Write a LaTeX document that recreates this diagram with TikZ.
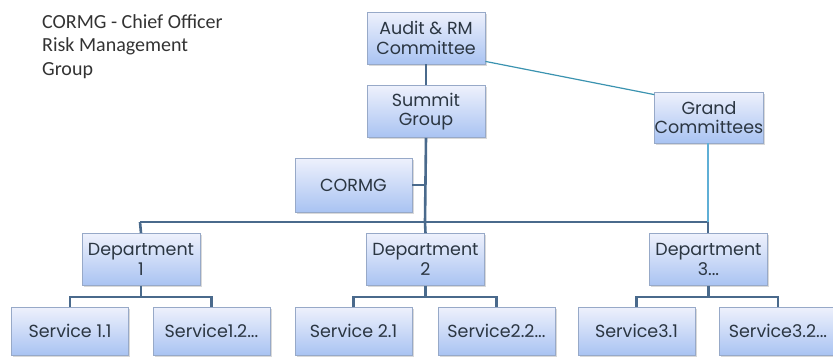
\documentclass[tikz,border=0pt]{standalone}
\usepackage{fontspec}
\setmainfont{Carlito}
\newfontfamily\boxfont{Poppins}
\usetikzlibrary{shadows}
\definecolor{boxtop}{HTML}{EEF1FC}
\definecolor{boxbot}{HTML}{A9C3F2}
\definecolor{boxline}{HTML}{97A9C8}
\definecolor{boxtext}{HTML}{2B3642}
\definecolor{bus}{HTML}{4A6A8C}
\definecolor{teal}{HTML}{3B93B0}
\definecolor{lightbus}{HTML}{5FAFD6}
\tikzset{
  orgbox/.style={rectangle, draw=boxline, line width=0.8pt, top color=boxtop, bottom color=boxbot,
    inner sep=0pt, align=center, text=boxtext, font=\boxfont\fontsize{17.5}{19.5}\selectfont,
    drop shadow={shadow xshift=1.5pt, shadow yshift=-1.5pt, opacity=0.25, fill=black!60}},
  bigbox/.style={orgbox, minimum width=118pt, minimum height=52pt},
  svcbox/.style={orgbox, minimum width=117pt, minimum height=48pt},
  busline/.style={draw=bus, line width=2.6pt},
  tealline/.style={draw=teal, line width=1.2pt},
  lightline/.style={draw=lightbus, line width=1.6pt}
}
\begin{document}
\begin{tikzpicture}[x=1pt,y=-1pt]
\useasboundingbox (0,0) rectangle (833,360);
\node[anchor=north west, align=left, font=\fontsize{20}{23.5}\selectfont, text=black!80, inner sep=0pt] (legend) at (42,14) {CORMG - Chief Officer\\Risk Management\\Group};

\coordinate (busL) at (140,222);
\coordinate (busM) at (425,222);
\coordinate (busR) at (708,222);

\node[bigbox] (audit) at (426,38) {Audit \& RM\\Committee};
\node[bigbox] (summit) at (426,111.5) {Summit\\Group};
\node[bigbox, minimum width=108pt, minimum height=51pt] (grand) at (709,117.5) {Grand\\Committees};
\node[bigbox, minimum width=117pt, minimum height=54pt] (cormg) at (353.5,185) {CORMG};
\node[bigbox] (dept1) at (141,259.5) {Department\\1};
\node[bigbox] (dept2) at (425.5,259.5) {Department\\2};
\node[bigbox] (dept3) at (708.5,259.5) {Department\\3...};
\node[svcbox] (s11) at (70,331) {Service 1.1};
\node[svcbox] (s12) at (211.5,331) {Service1.2...};
\node[svcbox] (s21) at (353.5,331) {Service 2.1};
\node[svcbox] (s22) at (496.5,331) {Service2.2...};
\node[svcbox] (s31) at (636.5,331) {Service3.1};
\node[svcbox] (s32) at (778,331) {Service3.2...};

\draw[busline] (audit.south) -- (summit.north);
\draw[busline] (summit.south) -- (busM);
\draw[busline] (cormg.east) -- (cormg.east -| busM);
\draw[busline] (busL) -- (busR);
\draw[busline] (busL) -- (dept1.north);
\draw[busline] (busM) -- (dept2.north);
\draw[busline] (busR |- dept3.north) -- (busR);
\draw[lightline] (grand.south -| busR) -- (busR);
\draw[tealline] ([yshift=3pt]audit.south east) -- ([yshift=-3pt]grand.north west);

\coordinate (b1) at (141,297);
\coordinate (b2) at (425.5,297);
\coordinate (b3) at (708.5,297);
\draw[busline] (dept1.south) -- (b1);
\draw[busline] (s11.north) |- (b1) -| (s12.north);
\draw[busline] (dept2.south) -- (b2);
\draw[busline] (s21.north) |- (b2) -| (s22.north);
\draw[busline] (dept3.south) -- (b3);
\draw[busline] (s31.north) |- (b3) -| (s32.north);
\end{tikzpicture}
\end{document}
